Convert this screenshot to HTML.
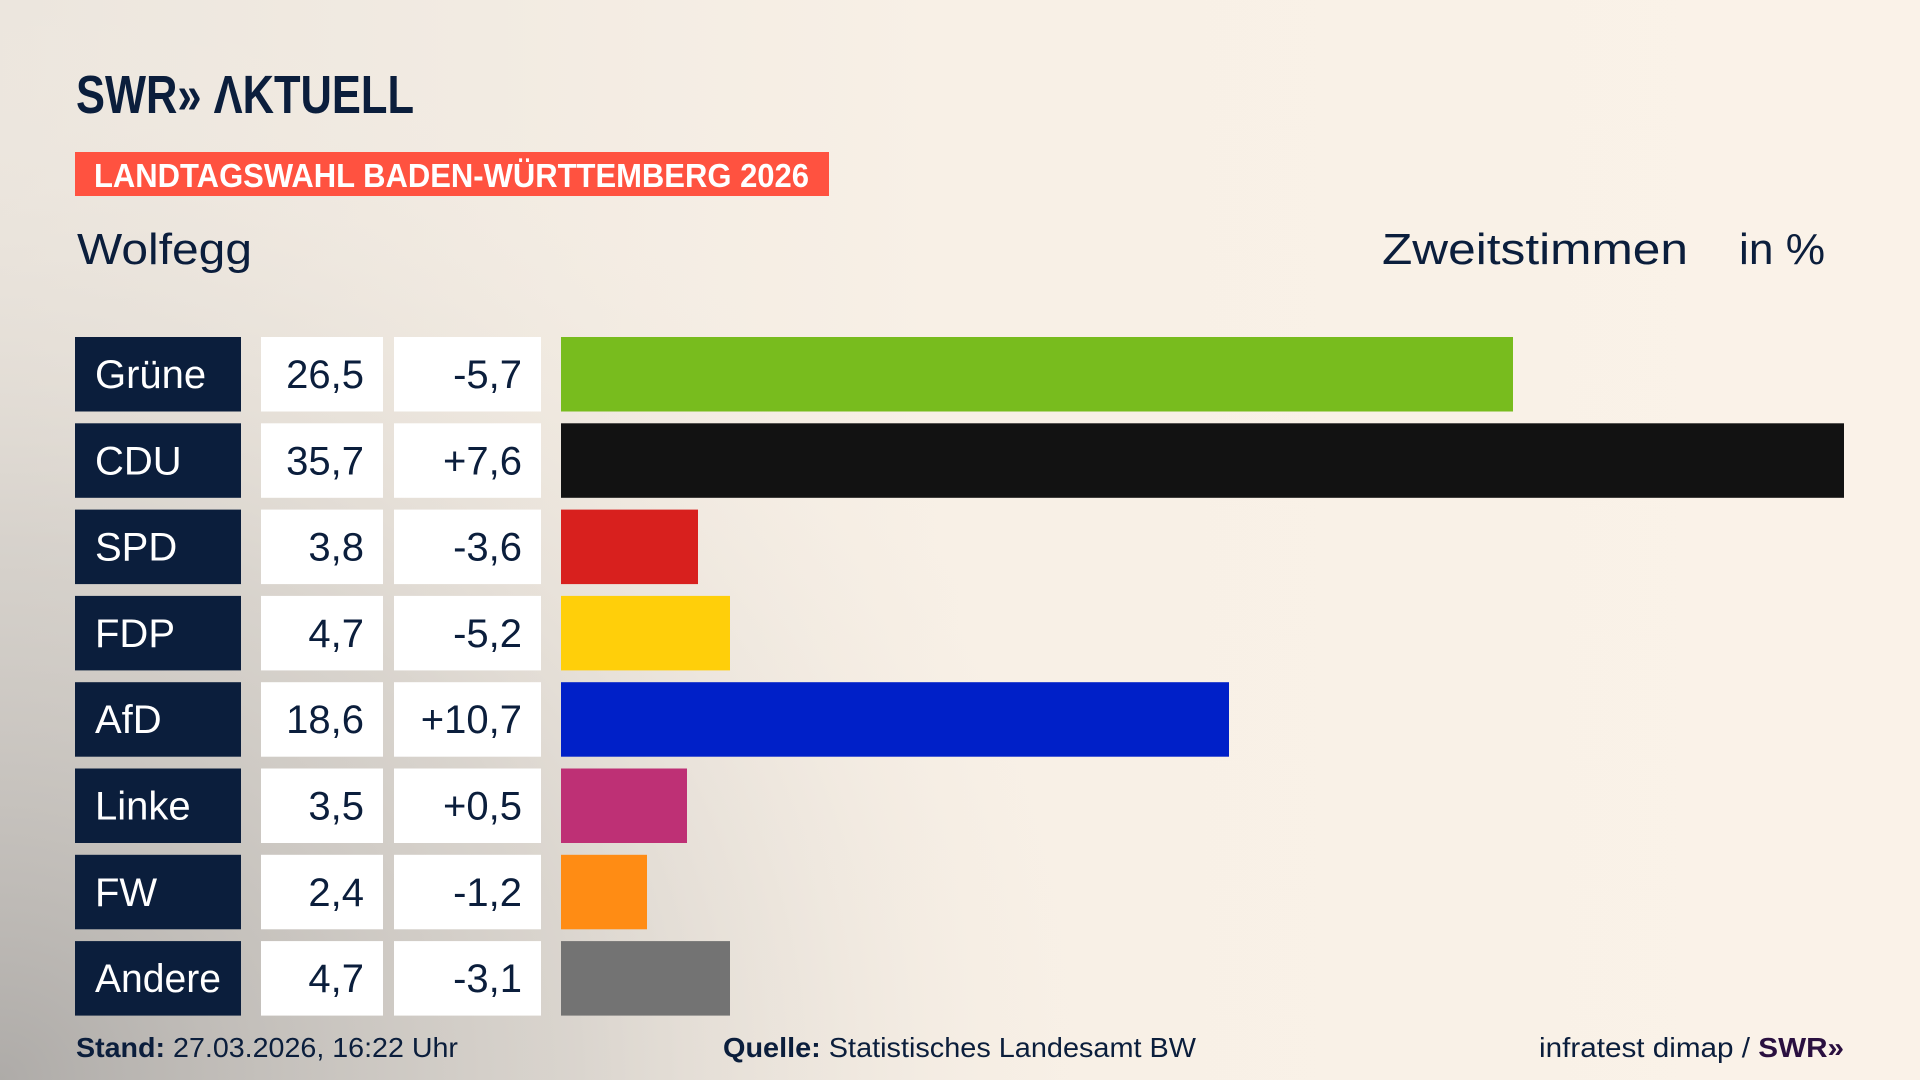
<!DOCTYPE html>
<html><head><meta charset="utf-8"><style>
html,body{margin:0;padding:0;width:1920px;height:1080px;overflow:hidden}
body{background:#f8f0e6}
svg{display:block}
text{font-family:"Liberation Sans Narrow","Liberation Sans",sans-serif}
</style></head><body>
<svg width="1920" height="1080" viewBox="0 0 1920 1080" xmlns="http://www.w3.org/2000/svg">
<defs>
<linearGradient id="bg" x1="0" y1="0" x2="1" y2="0">
<stop offset="0" stop-color="#ece6de"/><stop offset="0.5" stop-color="#f8f0e6"/><stop offset="1" stop-color="#faf2e8"/>
</linearGradient>
<radialGradient id="sh" cx="0" cy="1" r="1" gradientUnits="objectBoundingBox" gradientTransform="scale(0.6,1)">
<stop offset="0" stop-color="#aeaba8" stop-opacity="1"/>
<stop offset="0.5" stop-color="#c9c5c0" stop-opacity="0.6"/>
<stop offset="1" stop-color="#f8f0e6" stop-opacity="0"/>
</radialGradient>
</defs>
<rect width="1920" height="1080" fill="url(#bg)"/>
<rect width="1920" height="1080" fill="url(#sh)"/>
<text x="76" y="113" font-size="54" font-weight="bold" fill="#0b1e3c" textLength="338" lengthAdjust="spacingAndGlyphs">SWR» ΛKTUELL</text>
<rect x="75" y="152" width="754" height="44" fill="#ff5240"/>
<text x="94" y="187" font-size="33" font-weight="bold" fill="#fff" textLength="715" lengthAdjust="spacingAndGlyphs">LANDTAGSWAHL BADEN-WÜRTTEMBERG 2026</text>
<g font-family="Liberation Sans" fill="#0b1e3c">
<text x="77" y="264" font-size="44" textLength="175" lengthAdjust="spacingAndGlyphs" font-family="Liberation Sans">Wolfegg</text>
<text x="1382" y="264" font-size="44" textLength="306" lengthAdjust="spacingAndGlyphs" font-family="Liberation Sans">Zweitstimmen</text>
<text x="1739" y="264" font-size="44" textLength="86" lengthAdjust="spacingAndGlyphs" font-family="Liberation Sans">in %</text>
</g>
<g id="rows" font-size="40">
<!-- row template: top y, height 74.5 -->
<g transform="translate(0,337)">
<rect x="75" width="166" height="74.5" fill="#0b1e3c"/><rect x="261" width="122" height="74.5" fill="#fff"/><rect x="394" width="147" height="74.5" fill="#fff"/>
<rect x="561" width="952" height="74.5" fill="#78bc1e"/>
<text x="95" y="51" fill="#fff" style="font-family:'Liberation Sans'">Grüne</text>
<text x="364" y="51" fill="#0b1e3c" text-anchor="end" style="font-family:'Liberation Sans'">26,5</text>
<text x="522" y="51" fill="#0b1e3c" text-anchor="end" style="font-family:'Liberation Sans'">-5,7</text>
</g>
<g transform="translate(0,423.3)">
<rect x="75" width="166" height="74.5" fill="#0b1e3c"/><rect x="261" width="122" height="74.5" fill="#fff"/><rect x="394" width="147" height="74.5" fill="#fff"/>
<rect x="561" width="1283" height="74.5" fill="#121212"/>
<text x="95" y="51" fill="#fff" style="font-family:'Liberation Sans'">CDU</text>
<text x="364" y="51" fill="#0b1e3c" text-anchor="end" style="font-family:'Liberation Sans'">35,7</text>
<text x="522" y="51" fill="#0b1e3c" text-anchor="end" style="font-family:'Liberation Sans'">+7,6</text>
</g>
<g transform="translate(0,509.6)">
<rect x="75" width="166" height="74.5" fill="#0b1e3c"/><rect x="261" width="122" height="74.5" fill="#fff"/><rect x="394" width="147" height="74.5" fill="#fff"/>
<rect x="561" width="137" height="74.5" fill="#d8201e"/>
<text x="95" y="51" fill="#fff" style="font-family:'Liberation Sans'">SPD</text>
<text x="364" y="51" fill="#0b1e3c" text-anchor="end" style="font-family:'Liberation Sans'">3,8</text>
<text x="522" y="51" fill="#0b1e3c" text-anchor="end" style="font-family:'Liberation Sans'">-3,6</text>
</g>
<g transform="translate(0,595.9)">
<rect x="75" width="166" height="74.5" fill="#0b1e3c"/><rect x="261" width="122" height="74.5" fill="#fff"/><rect x="394" width="147" height="74.5" fill="#fff"/>
<rect x="561" width="169" height="74.5" fill="#ffcf0a"/>
<text x="95" y="51" fill="#fff" style="font-family:'Liberation Sans'">FDP</text>
<text x="364" y="51" fill="#0b1e3c" text-anchor="end" style="font-family:'Liberation Sans'">4,7</text>
<text x="522" y="51" fill="#0b1e3c" text-anchor="end" style="font-family:'Liberation Sans'">-5,2</text>
</g>
<g transform="translate(0,682.2)">
<rect x="75" width="166" height="74.5" fill="#0b1e3c"/><rect x="261" width="122" height="74.5" fill="#fff"/><rect x="394" width="147" height="74.5" fill="#fff"/>
<rect x="561" width="668" height="74.5" fill="#0020c8"/>
<text x="95" y="51" fill="#fff" style="font-family:'Liberation Sans'">AfD</text>
<text x="364" y="51" fill="#0b1e3c" text-anchor="end" style="font-family:'Liberation Sans'">18,6</text>
<text x="522" y="51" fill="#0b1e3c" text-anchor="end" style="font-family:'Liberation Sans'">+10,7</text>
</g>
<g transform="translate(0,768.5)">
<rect x="75" width="166" height="74.5" fill="#0b1e3c"/><rect x="261" width="122" height="74.5" fill="#fff"/><rect x="394" width="147" height="74.5" fill="#fff"/>
<rect x="561" width="126" height="74.5" fill="#be3075"/>
<text x="95" y="51" fill="#fff" style="font-family:'Liberation Sans'">Linke</text>
<text x="364" y="51" fill="#0b1e3c" text-anchor="end" style="font-family:'Liberation Sans'">3,5</text>
<text x="522" y="51" fill="#0b1e3c" text-anchor="end" style="font-family:'Liberation Sans'">+0,5</text>
</g>
<g transform="translate(0,854.8)">
<rect x="75" width="166" height="74.5" fill="#0b1e3c"/><rect x="261" width="122" height="74.5" fill="#fff"/><rect x="394" width="147" height="74.5" fill="#fff"/>
<rect x="561" width="86" height="74.5" fill="#ff8c14"/>
<text x="95" y="51" fill="#fff" style="font-family:'Liberation Sans'">FW</text>
<text x="364" y="51" fill="#0b1e3c" text-anchor="end" style="font-family:'Liberation Sans'">2,4</text>
<text x="522" y="51" fill="#0b1e3c" text-anchor="end" style="font-family:'Liberation Sans'">-1,2</text>
</g>
<g transform="translate(0,941.1)">
<rect x="75" width="166" height="74.5" fill="#0b1e3c"/><rect x="261" width="122" height="74.5" fill="#fff"/><rect x="394" width="147" height="74.5" fill="#fff"/>
<rect x="561" width="169" height="74.5" fill="#737373"/>
<text x="95" y="51" fill="#fff" style="font-family:'Liberation Sans'" textLength="126" lengthAdjust="spacingAndGlyphs">Andere</text>
<text x="364" y="51" fill="#0b1e3c" text-anchor="end" style="font-family:'Liberation Sans'">4,7</text>
<text x="522" y="51" fill="#0b1e3c" text-anchor="end" style="font-family:'Liberation Sans'">-3,1</text>
</g>
</g>
<g font-size="28" fill="#0b1e3c">
<text x="76" y="1057" textLength="382" lengthAdjust="spacingAndGlyphs"><tspan font-weight="bold">Stand:</tspan> 27.03.2026, 16:22 Uhr</text>
<text x="723" y="1057" textLength="473" lengthAdjust="spacingAndGlyphs"><tspan font-weight="bold">Quelle:</tspan> Statistisches Landesamt BW</text>
<text x="1539" y="1057" textLength="305" lengthAdjust="spacingAndGlyphs">infratest dimap / <tspan font-weight="bold" fill="#2a1040">SWR»</tspan></text>
</g>
</svg>
</body></html>
